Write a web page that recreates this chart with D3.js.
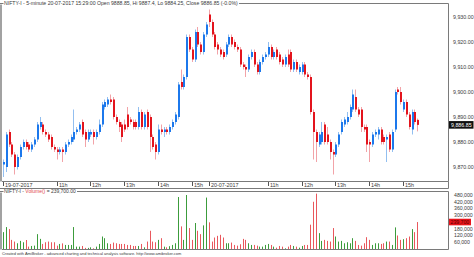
<!DOCTYPE html>
<html><head><meta charset="utf-8">
<script src="https://cdn.jsdelivr.net/npm/d3@7"></script>
<style>
html,body{margin:0;padding:0;background:#fff;overflow:hidden}
svg{display:block}
text{font-family:"Liberation Sans",Arial,sans-serif}
</style>
</head><body>
<svg id="c" width="474" height="257"></svg>
<script>
// ---------- DATA ----------
const symbol = "NIFTY-I";
const days = ["19-07-2017", "20-07-2017"];
const titleText = "NIFTY-I - 5-minute 20-07-2017 15:29:00 Open 9888.85, Hi 9887.4, Lo 9884.25, Close 9886.85 (-0.0%)";
const footerText = "Created with AmiBroker - advanced charting and technical analysis software. http://www.amibroker.com";

const openP = [
 9871,9870,9884,9879,9875,9870,9874,9878,9880,9879,
 9877,9879,9881,9886,9887,9884,9883,9882,9878,9877,
 9876,9877,9876,9879,9880,9881,9884,9885,9888,9884,
 9881,9883,9884,9882,9884,9887,9894,9895,9897,9897,
 9890,9888,9887,9887,9891,9889,9888,9888,9886,9892,
 9886,9892,9890,9882,9879,9876,9885,9884,9885,9884,
 9886,9888,9890,9904,9902,9906,9922,9917,9913,9924,
 9919,9916,9923,
 9931,9928,9923,9919,9917,9916,9915,9919,9922,9920,
 9918,9917,9911,9910,9909,9914,9916,9911,9908,9912,
 9914,9915,9918,9914,9917,9915,9913,9911,9915,9916,
 9909,9912,9908,9908,9911,9907,9906,9892,9884,9879,
 9880,9887,9883,9880,9876,9875,9879,9884,9887,9888,
 9890,9893,9898,9893,9893,9886,9886,9880,9879,9883,
 9883,9885,9882,9881,9883,9877,9885,9901,9900,9893,
 9896,9891,9885,9892,9888.85
];
const highP = [
 9873,9884,9885,9880,9876,9875,9879,9881,9881,9880,
 9880,9882,9888,9890,9888,9885,9884,9883,9879,9878,
 9878,9878,9880,9881,9883,9893,9886,9888,9889,9885,
 9885,9885,9885,9885,9889,9896,9897,9898,9899,9898,
 9891,9889,9888,9889,9894,9890,9889,9889,9894,9893,
 9892,9893,9891,9883,9880,9887,9887,9886,9886,9887,
 9889,9892,9904,9909,9907,9923,9923,9918,9925,9926,
 9920,9924,9928,
 9933,9929,9924,9920,9918,9917,9920,9923,9923,9921,
 9919,9918,9912,9911,9915,9917,9917,9912,9913,9915,
 9916,9920,9919,9917,9918,9916,9914,9915,9917,9917,
 9913,9913,9911,9912,9912,9908,9907,9893,9885,9884,
 9888,9888,9886,9881,9877,9880,9884,9889,9890,9892,
 9895,9901,9901,9894,9894,9887,9887,9881,9884,9885,
 9886,9886,9883,9883,9884,9885,9901,9902,9902,9897,
 9897,9892,9893,9893,9889.4
];
const lowP = [
 9866,9868,9878,9874,9867,9869,9873,9877,9877,9876,
 9876,9878,9880,9885,9883,9882,9880,9877,9876,9873,
 9875,9872,9875,9878,9879,9880,9883,9884,9882,9878,
 9880,9882,9879,9881,9883,9886,9893,9894,9895,9889,
 9887,9884,9880,9884,9885,9887,9885,9885,9885,9885,
 9885,9885,9876,9877,9873,9875,9883,9882,9883,9883,
 9885,9887,9889,9901,9901,9905,9916,9912,9912,9918,
 9915,9915,9922,
 9926,9922,9917,9915,9914,9913,9914,9918,9918,9917,
 9916,9910,9909,9906,9908,9913,9910,9907,9907,9911,
 9913,9914,9913,9913,9913,9911,9910,9910,9910,9908,
 9908,9908,9907,9907,9906,9905,9891,9873,9872,9878,
 9879,9879,9879,9873,9867,9874,9878,9883,9886,9887,
 9889,9892,9892,9890,9884,9884,9876,9872,9878,9882,
 9881,9879,9879,9872,9876,9876,9884,9899,9895,9892,
 9890,9885,9883,9887,9884.25
];
const closeP = [
 9872,9883,9879,9875,9870,9874,9878,9880,9878,9877,
 9879,9881,9887,9888,9884,9883,9881,9878,9877,9876,
 9877,9876,9879,9880,9882,9884,9885,9887,9883,9881,
 9884,9884,9882,9884,9887,9895,9896,9897,9896,9890,
 9888,9886,9882,9885,9886,9888,9886,9886,9892,9886,
 9891,9886,9882,9878,9876,9885,9884,9885,9884,9886,
 9888,9891,9903,9902,9906,9922,9917,9913,9924,9919,
 9916,9923,9927,
 9928,9923,9918,9917,9915,9914,9919,9922,9919,9918,
 9917,9911,9910,9909,9914,9916,9911,9908,9912,9914,
 9915,9918,9914,9916,9914,9912,9911,9914,9911,9909,
 9912,9909,9910,9911,9907,9906,9892,9884,9880,9883,
 9884,9880,9880,9876,9875,9879,9883,9888,9889,9890,
 9894,9899,9893,9891,9886,9885,9879,9879,9883,9884,
 9885,9880,9880,9882,9877,9884,9900,9900,9896,9896,
 9891,9886,9892,9888,9886.85
];
const volumeK = [
 150,195,177,81,66,51,72,60,80,21,
 27,30,132,90,45,60,66,60,60,30,
 45,50,36,36,36,195,21,21,27,10,
 10,15,6,21,45,111,96,51,45,57,
 51,45,45,45,36,36,27,27,27,45,
 15,66,162,66,60,81,96,21,15,25,
 36,51,462,201,81,480,186,81,231,162,
 132,210,457,
 237,66,102,117,126,102,51,51,57,36,
 30,42,90,81,51,36,36,30,21,21,
 36,45,36,21,12,27,21,6,21,36,
 27,21,12,27,36,36,216,420,492,141,
 72,81,72,66,186,111,66,72,51,60,
 51,96,72,36,30,51,105,81,36,51,
 51,45,51,66,66,36,192,120,81,87,
 96,111,177,150,239.7
];
const priceTicks = [9870, 9880, 9890, 9900, 9910, 9920, 9930];
const volumeTicks = [60000, 120000, 180000, 300000, 360000, 420000, 480000];

// categories: 5-minute bars of the two sessions
const bars = [];
function session(date, startMin, endMin) {
  for (let t = startMin; t <= endMin; t += 5) bars.push({date, h: Math.floor(t / 60), m: t % 60});
}
session(days[0], 9 * 60 + 25, 15 * 60 + 25);
session(days[1], 9 * 60 + 15, 15 * 60 + 25);
const data = bars.map((b, i) => ({...b, i, o: openP[i], h_: highP[i], l: lowP[i], c: closeP[i], v: volumeK[i] * 1000}));

// ---------- LAYOUT ----------
const svg = d3.select("#c");
const P = {l: 2, r: 448.5, t: 3.5, b: 181.5};
const V = {t: 191.5, b: 249.5};
const TXT = "#3a3a3a";

const x = d3.scalePoint().domain(d3.range(data.length)).range([4, 418.2]);
const y = d3.scaleLinear().domain([9870, 9930]).range([167, 17]);
const yv = d3.scaleLinear().domain([0, 480000]).range([249, 195]);
const px = i => Math.round(x(i));

const col = {
  upBody: "#1c78ec", upWick: "#93bff0",
  dnBody: "#e3141d", dnWick: "#f2a3a8",
  volUp: "#3c9c3c", volDn: "#e9585d"
};

// frames
const frame = svg.append("g").attr("fill", "none").attr("stroke", "#7a7a7a").attr("stroke-width", 1);
frame.append("path").attr("d", `M0,${P.t}H${P.r}V${P.b}H${P.l}`);
frame.append("path").attr("d", `M0,188.5H${P.r}V${P.b}`);
frame.append("path").attr("d", `M0,${V.t}H${P.r}V${V.b}H${P.l}`);
svg.append("rect").attr("x", 0).attr("y", P.t + 1).attr("width", 2).attr("height", P.b - P.t - 1).attr("fill", "#a2a2a2");
svg.append("rect").attr("x", 0).attr("y", V.t + 1).attr("width", 2).attr("height", V.b - V.t - 1).attr("fill", "#a2a2a2");

// candles
const cg = svg.append("g");
cg.selectAll("line.w").data(data).join("line")
  .attr("x1", d => px(d.i) - 0.5).attr("x2", d => px(d.i) - 0.5)
  .attr("y1", d => y(d.h_)).attr("y2", d => y(d.l))
  .attr("stroke", d => d.c >= d.o ? col.upWick : col.dnWick).attr("stroke-width", 1);
cg.selectAll("rect.b").data(data).join("rect")
  .attr("x", d => px(d.i) - 1).attr("width", 2)
  .attr("y", d => y(Math.max(d.o, d.c)))
  .attr("height", d => Math.max(1, Math.abs(y(d.o) - y(d.c))))
  .attr("fill", d => d.c >= d.o ? col.upBody : col.dnBody);

// volume
svg.append("g").selectAll("line").data(data).join("line")
  .attr("x1", d => px(d.i) - 0.5).attr("x2", d => px(d.i) - 0.5)
  .attr("y1", d => yv(d.v)).attr("y2", V.b - 0.5)
  .attr("stroke", d => d.c >= d.o ? col.volUp : col.volDn).attr("stroke-width", 1);

// x axis ticks (day change / full hour), skip overlapping labels
const xt = svg.append("g");
let lastEnd = -10;
data.forEach((d, i) => {
  const first = i === 0 || data[i - 1].date !== d.date;
  if (!first && d.m !== 0) return;
  const label = first ? d.date : d.h + "h";
  const xx = px(i) - 0.5;
  if (xx < lastEnd + 2) return;
  xt.append("line").attr("x1", xx).attr("x2", xx).attr("y1", 182).attr("y2", 186).attr("stroke", "#555");
  const t = xt.append("text").attr("x", xx + 1.5).attr("y", 187).attr("font-size", 5.4).attr("fill", TXT).text(label);
  lastEnd = xx + 1.5 + t.node().getComputedTextLength();
});

// right price axis
const fmtP = d3.format(",.2f");
svg.append("g").selectAll("text").data(priceTicks).join("text")
  .attr("x", 453).attr("y", d => y(d)).attr("dy", "0.35em")
  .attr("font-size", 5.3).attr("fill", TXT).text(d => fmtP(d));
const lastBar = data[data.length - 1];
svg.append("rect").attr("x", 449).attr("y", y(lastBar.c) - 3.8).attr("width", 24.5).attr("height", 7.6).attr("fill", "#111");
svg.append("text").attr("x", 451).attr("y", y(lastBar.c)).attr("dy", "0.35em")
  .attr("font-size", 5.3).attr("fill", "#fff").text(fmtP(lastBar.c));

// right volume axis
const fmtV = d3.format(",");
svg.append("g").selectAll("text").data(volumeTicks).join("text")
  .attr("x", 454).attr("y", d => yv(d)).attr("dy", "0.35em")
  .attr("font-size", 5.2).attr("fill", TXT).text(d => fmtV(d));
svg.append("rect").attr("x", 449).attr("y", yv(lastBar.v) - 3.3).attr("width", 22).attr("height", 6.6).attr("fill", "#e8141c");
svg.append("text").attr("x", 450.5).attr("y", yv(lastBar.v)).attr("dy", "0.35em")
  .attr("font-size", 5.2).attr("fill", "#5a0000").text(fmtV(lastBar.v));

// titles on frame lines
function fitText(sel, width) {
  const w = sel.node().getComputedTextLength();
  const fs = +sel.attr("font-size");
  sel.attr("font-size", fs * width / w);
}
function underlay(sel, yLine) {
  const b = sel.node().getBBox();
  svg.insert("rect", () => sel.node()).attr("x", b.x - 0.5).attr("y", yLine - 1).attr("width", b.width + 1.5).attr("height", 2).attr("fill", "#fff");
}
const tt = svg.append("text").attr("x", 4).attr("y", P.t).attr("dy", "0.35em").attr("font-size", 6).attr("fill", TXT).text(titleText);
fitText(tt, 234);
underlay(tt, P.t);

const vt = svg.append("text").attr("x", 4).attr("y", V.t).attr("dy", "0.35em").attr("font-size", 5.6).attr("fill", TXT);
vt.append("tspan").text(symbol + " - ");
vt.append("tspan").attr("fill", "#e0474c").text("Volume()");
vt.append("tspan").text(" = " + d3.format(",.2f")(lastBar.v));
fitText(vt, 72);
underlay(vt, V.t);

const ft = svg.append("text").attr("x", 2).attr("y", 253.5).attr("dy", "0.35em").attr("font-size", 5).attr("fill", TXT).text(footerText);
fitText(ft, 180);
</script>
</body></html>
